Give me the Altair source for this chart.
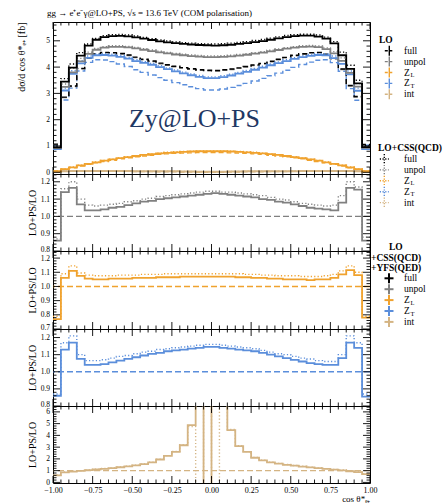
import altair as alt
import pandas as pd

FONT = "Liberation Serif"

# ---- binning in cos(theta*): 40 bins of width 0.05 ----
edges = [round(-1.0 + 0.05 * i, 2) for i in range(41)]
x_major = [-1.0, -0.75, -0.5, -0.25, 0.0, 0.25, 0.5, 0.75, 1.0]
x_minor = [e for e in edges if e not in x_major]

series_names = ["full", "unpol", "Z_L", "Z_T", "int"]
series_colors = ["#000000", "#808080", "#F0A22E", "#5B8EDB", "#D4B483"]

# ---- d sigma / d cos theta* [fb] ----
full_lo = [1.07, 2.86, 3.28, 3.95, 4.35, 4.50, 4.56, 4.55, 4.52, 4.46, 4.38, 4.30, 4.23, 4.15, 4.09, 4.03, 3.98, 3.94, 3.90, 3.88,
           3.87, 3.90, 3.93, 3.97, 4.02, 4.08, 4.14, 4.22, 4.30, 4.37, 4.45, 4.51, 4.55, 4.56, 4.49, 4.33, 3.93, 3.30, 2.88, 1.06]
full_css = [1.00, 3.56, 4.12, 4.55, 4.88, 5.09, 5.19, 5.23, 5.24, 5.22, 5.18, 5.13, 5.08, 5.03, 4.99, 4.96, 4.93, 4.91, 4.89, 4.88,
            4.88, 4.89, 4.91, 4.94, 4.97, 5.01, 5.05, 5.10, 5.15, 5.20, 5.23, 5.25, 5.25, 5.22, 5.14, 4.97, 4.57, 4.07, 3.50, 1.01]
full_ps = [0.95, 3.45, 3.98, 4.44, 4.82, 5.04, 5.14, 5.18, 5.19, 5.17, 5.13, 5.08, 5.03, 4.98, 4.94, 4.91, 4.88, 4.86, 4.84, 4.83,
           4.82, 4.83, 4.85, 4.88, 4.91, 4.95, 4.99, 5.04, 5.09, 5.14, 5.18, 5.20, 5.20, 5.16, 5.08, 4.90, 4.45, 3.93, 3.38, 0.96]

unpol_lo = [1.05, 2.84, 3.26, 3.93, 4.33, 4.48, 4.54, 4.53, 4.50, 4.44, 4.36, 4.28, 4.21, 4.13, 4.07, 4.01, 3.96, 3.92, 3.88, 3.86,
            3.85, 3.88, 3.91, 3.95, 4.00, 4.06, 4.12, 4.20, 4.28, 4.35, 4.43, 4.49, 4.53, 4.54, 4.47, 4.31, 3.91, 3.28, 2.86, 1.04]
unpol_css = [0.97, 3.36, 3.95, 4.33, 4.57, 4.71, 4.78, 4.81, 4.81, 4.79, 4.75, 4.70, 4.65, 4.60, 4.56, 4.52, 4.49, 4.46, 4.44, 4.42,
             4.42, 4.43, 4.45, 4.48, 4.51, 4.55, 4.59, 4.64, 4.69, 4.74, 4.78, 4.81, 4.82, 4.80, 4.73, 4.59, 4.35, 3.94, 3.37, 0.98]
unpol_ps = [0.92, 3.25, 3.80, 4.22, 4.50, 4.66, 4.74, 4.77, 4.77, 4.75, 4.71, 4.66, 4.61, 4.56, 4.52, 4.48, 4.45, 4.42, 4.40, 4.38,
            4.38, 4.39, 4.41, 4.44, 4.47, 4.51, 4.55, 4.60, 4.65, 4.70, 4.74, 4.77, 4.78, 4.76, 4.68, 4.52, 4.24, 3.78, 3.26, 0.93]

zl_lo = [0.05, 0.11, 0.17, 0.24, 0.30, 0.36, 0.41, 0.46, 0.51, 0.55, 0.59, 0.62, 0.65, 0.68, 0.70, 0.72, 0.73, 0.74, 0.75, 0.75,
         0.75, 0.75, 0.74, 0.73, 0.72, 0.70, 0.68, 0.65, 0.62, 0.59, 0.55, 0.51, 0.46, 0.41, 0.36, 0.30, 0.24, 0.17, 0.11, 0.05]
zl_css = [0.045, 0.125, 0.20, 0.27, 0.33, 0.39, 0.45, 0.50, 0.55, 0.59, 0.63, 0.67, 0.70, 0.73, 0.76, 0.78, 0.79, 0.80, 0.81, 0.81,
          0.81, 0.81, 0.80, 0.79, 0.78, 0.76, 0.73, 0.70, 0.67, 0.63, 0.59, 0.55, 0.50, 0.45, 0.39, 0.33, 0.27, 0.20, 0.125, 0.045]
zl_ps = [0.04, 0.12, 0.19, 0.26, 0.32, 0.38, 0.44, 0.49, 0.54, 0.58, 0.62, 0.66, 0.69, 0.72, 0.74, 0.76, 0.78, 0.79, 0.80, 0.80,
         0.80, 0.80, 0.79, 0.78, 0.76, 0.74, 0.72, 0.69, 0.66, 0.62, 0.58, 0.54, 0.49, 0.44, 0.38, 0.32, 0.26, 0.19, 0.12, 0.04]

zt_lo = [1.02, 2.75, 3.20, 3.85, 4.18, 4.28, 4.27, 4.21, 4.12, 4.02, 3.90, 3.80, 3.70, 3.60, 3.50, 3.41, 3.33, 3.25, 3.18, 3.13,
         3.13, 3.17, 3.23, 3.30, 3.38, 3.47, 3.57, 3.67, 3.77, 3.88, 3.99, 4.10, 4.19, 4.26, 4.28, 4.17, 3.84, 3.18, 2.74, 1.03]
zt_css = [0.93, 3.20, 3.86, 4.24, 4.42, 4.50, 4.51, 4.49, 4.44, 4.37, 4.28, 4.21, 4.14, 4.05, 3.97, 3.89, 3.81, 3.74, 3.68, 3.63,
          3.63, 3.67, 3.73, 3.80, 3.87, 3.95, 4.03, 4.12, 4.20, 4.28, 4.36, 4.43, 4.48, 4.51, 4.51, 4.42, 4.24, 3.85, 3.20, 0.93]
zt_ps = [0.88, 3.11, 3.74, 4.14, 4.35, 4.45, 4.46, 4.44, 4.39, 4.32, 4.23, 4.16, 4.09, 4.00, 3.92, 3.84, 3.76, 3.69, 3.63, 3.58,
         3.58, 3.62, 3.68, 3.75, 3.82, 3.90, 3.98, 4.07, 4.15, 4.23, 4.31, 4.38, 4.43, 4.46, 4.45, 4.34, 4.12, 3.72, 3.10, 0.88]

int_lo = [0.03, 0.05, 0.05, 0.05, 0.05, 0.05, 0.04, 0.04, 0.04, 0.04, 0.03, 0.03, 0.03, 0.02, 0.02, 0.02, 0.01, 0.01, 0.00, 0.00,
          0.00, 0.00, 0.01, 0.01, 0.02, 0.02, 0.02, 0.03, 0.03, 0.03, 0.04, 0.04, 0.04, 0.04, 0.05, 0.05, 0.05, 0.05, 0.05, 0.03]
int_css = [0.02, 0.05, 0.05, 0.05, 0.05, 0.06, 0.05, 0.05, 0.05, 0.05, 0.04, 0.04, 0.04, 0.04, 0.04, 0.04, 0.03, 0.03, 0.02, 0.02,
           0.02, 0.02, 0.03, 0.03, 0.04, 0.04, 0.04, 0.04, 0.04, 0.04, 0.05, 0.05, 0.05, 0.05, 0.06, 0.05, 0.05, 0.05, 0.05, 0.02]
int_ps = [0.02, 0.04, 0.05, 0.05, 0.05, 0.05, 0.05, 0.05, 0.05, 0.05, 0.04, 0.04, 0.04, 0.04, 0.04, 0.04, 0.03, 0.03, 0.02, 0.02,
          0.02, 0.02, 0.03, 0.03, 0.04, 0.04, 0.04, 0.04, 0.04, 0.04, 0.04, 0.05, 0.05, 0.05, 0.05, 0.05, 0.05, 0.05, 0.04, 0.02]

# ---- ratios LO+PS / LO ----
unpol_r_css = [0.87, 1.16, 1.20, 1.10, 1.065, 1.06, 1.065, 1.07, 1.075, 1.085, 1.09, 1.10, 1.105, 1.115, 1.12, 1.125, 1.13, 1.135, 1.14, 1.145,
               1.145, 1.14, 1.14, 1.135, 1.13, 1.125, 1.12, 1.11, 1.10, 1.095, 1.085, 1.075, 1.07, 1.065, 1.06, 1.065, 1.12, 1.20, 1.17, 0.88]
unpol_r_ps = [0.86, 1.14, 1.165, 1.07, 1.035, 1.035, 1.04, 1.05, 1.055, 1.065, 1.075, 1.085, 1.09, 1.10, 1.105, 1.11, 1.115, 1.12, 1.125, 1.13,
              1.135, 1.13, 1.125, 1.12, 1.115, 1.11, 1.10, 1.095, 1.085, 1.08, 1.07, 1.06, 1.05, 1.045, 1.04, 1.035, 1.08, 1.165, 1.155, 0.86]

zl_r_css = [0.79, 1.09, 1.145, 1.095, 1.08, 1.075, 1.075, 1.075, 1.08, 1.08, 1.08, 1.085, 1.085, 1.085, 1.09, 1.09, 1.09, 1.09, 1.09, 1.09,
            1.09, 1.09, 1.09, 1.09, 1.085, 1.085, 1.08, 1.08, 1.075, 1.075, 1.075, 1.07, 1.07, 1.07, 1.075, 1.085, 1.11, 1.145, 1.10, 0.79]
zl_r_ps = [0.77, 1.06, 1.11, 1.075, 1.055, 1.05, 1.05, 1.055, 1.055, 1.055, 1.06, 1.06, 1.06, 1.065, 1.065, 1.065, 1.07, 1.07, 1.07, 1.07,
           1.07, 1.07, 1.07, 1.065, 1.065, 1.06, 1.06, 1.055, 1.055, 1.05, 1.05, 1.05, 1.045, 1.05, 1.05, 1.06, 1.085, 1.115, 1.08, 0.78]

zt_r_css = [0.87, 1.17, 1.21, 1.10, 1.065, 1.065, 1.07, 1.08, 1.09, 1.095, 1.105, 1.115, 1.12, 1.13, 1.135, 1.14, 1.145, 1.15, 1.155, 1.16,
            1.16, 1.155, 1.15, 1.145, 1.14, 1.135, 1.125, 1.115, 1.105, 1.10, 1.09, 1.08, 1.075, 1.065, 1.06, 1.06, 1.10, 1.21, 1.17, 0.87]
zt_r_ps = [0.86, 1.13, 1.17, 1.075, 1.04, 1.04, 1.045, 1.055, 1.065, 1.075, 1.085, 1.095, 1.105, 1.11, 1.12, 1.125, 1.13, 1.135, 1.14, 1.145,
           1.145, 1.14, 1.135, 1.13, 1.125, 1.12, 1.11, 1.10, 1.09, 1.08, 1.07, 1.06, 1.05, 1.045, 1.04, 1.04, 1.08, 1.17, 1.14, 0.855]

int_r_css = [0.63, 0.88, 0.95, 1.00, 1.06, 1.12, 1.18, 1.24, 1.31, 1.38, 1.47, 1.57, 1.72, 1.98, 2.28, 2.64, 3.20, 4.75, -5.0, 15.0,
             -4.0, 14.0, 4.50, 3.12, 2.62, 2.13, 1.90, 1.72, 1.62, 1.52, 1.44, 1.37, 1.30, 1.23, 1.17, 1.11, 1.05, 0.97, 0.90, 0.72]
int_r_ps = [0.60, 0.85, 0.92, 0.98, 1.04, 1.10, 1.16, 1.22, 1.29, 1.36, 1.45, 1.55, 1.70, 1.95, 2.25, 2.60, 3.16, 4.87, 14.0, -6.0,
            12.0, 16.0, 4.44, 3.08, 2.59, 2.10, 1.88, 1.70, 1.60, 1.50, 1.42, 1.35, 1.28, 1.21, 1.15, 1.09, 1.03, 0.95, 0.88, 0.70]

# ---- legend content ----
legend_heads = [["LO"], ["LO+CSS(QCD)"], ["LO", "+CSS(QCD)", "+YFS(QED)"]]
entry_labels = ["full", "unpol", "Z", "Z", "int"]
entry_subs = ["", "", "L", "T", ""]

W = 317
DASH = {"lo": [5, 3], "css": [1.2, 2.2]}
SW = {"lo": 1.4, "css": 1.4, "ps": 1.8}


def steps(values, series, style):
    rows = [{"x": edges[i], "v": values[i], "series": series, "style": style} for i in range(40)]
    rows.append({"x": edges[40], "v": values[-1], "series": series, "style": style})
    return rows


def vtext(t, x, y, size, weight="normal", color="black", align="left", baseline="middle"):
    return alt.Chart(pd.DataFrame({"t": [t]})).mark_text(
        align=align, baseline=baseline, font=FONT, fontSize=size, fontWeight=weight, color=color).encode(
        text="t:N", x=alt.value(x), y=alt.value(y))


def vrule(x1, x2, y1, y2, color, width, dash=None):
    kw = {"color": color, "strokeWidth": width}
    if dash:
        kw["strokeDash"] = dash
    return alt.Chart(pd.DataFrame({"c": [color]})).mark_rule(**kw).encode(
        x=alt.value(x1), x2=alt.value(x2), y=alt.value(y1), y2=alt.value(y2))


def panel(curves, ydom, height, ymaj, ymin, yfmt, ytitle, title_x, title_anchor="middle",
          bottom=False, ref_color=None, extra=None, lift_lowest=False):
    xs = alt.Scale(domain=[-1, 1], nice=False, zero=False)
    ys = alt.Scale(domain=ydom, nice=False, zero=False)
    color = alt.Color("series:N", scale=alt.Scale(domain=series_names, range=series_colors), legend=None)
    if bottom:
        xax = alt.Axis(values=x_major, format=".2f", title="cos θ*ₑ₊", titleAnchor="end",
                       titleFont=FONT, titleFontSize=9, titleFontWeight="normal", titlePadding=0,
                       labelFont=FONT, labelFontSize=8, labelPadding=3, labelFlush=False,
                       labelOverlap=False, ticks=False, tickSize=0, domain=False, grid=False)
    else:
        xax = None
    baseline = "middle"
    if lift_lowest:
        # the lowest label sits on the panel edge; raise it clear of the panel below
        baseline = {"condition": {"test": f"datum.value <= {ymaj[0] + 1e-6}", "value": "alphabetic"},
                    "value": "middle"}
    yax = alt.Axis(values=ymaj, format=yfmt, title=ytitle, titleX=title_x, titleAnchor=title_anchor,
                   titleFont=FONT, titleFontSize=10, titleFontWeight="normal",
                   labelFont=FONT, labelFontSize=7.5, labelPadding=3.5, labelFlush=False,
                   labelBaseline=baseline,
                   labelOverlap=False, ticks=False, tickSize=0, domain=False, grid=False)

    # every layer carries the same axis definitions, so nothing conflicts when layers merge
    def X(field):
        return alt.X(field, scale=xs, axis=xax)

    def Y(field):
        return alt.Y(field, scale=ys, axis=yax)

    layers = []
    for style in ["lo", "css", "ps"]:
        rows = []
        for vals, name, st in curves:
            if st == style:
                rows += steps(vals, name, st)
        if not rows:
            continue
        kw = {"interpolate": "step-after", "clip": True, "strokeWidth": SW[style]}
        if style in DASH:
            kw["strokeDash"] = DASH[style]
        layers.append(alt.Chart(pd.DataFrame(rows)).mark_line(**kw).encode(
            x=X("x:Q"), y=Y("v:Q"), color=color))
    if ref_color is not None:
        layers.append(alt.Chart(pd.DataFrame({"v": [1.0]})).mark_rule(
            color=ref_color, strokeDash=[6, 3], strokeWidth=1.4).encode(y=Y("v:Q")))

    def xr(vals, y0, y1):
        return alt.Chart(pd.DataFrame({"x": vals})).mark_rule(color="black", strokeWidth=0.9).encode(
            x=X("x:Q"), y=alt.value(y0), y2=alt.value(y1))

    def yr(vals, x0, x1):
        return alt.Chart(pd.DataFrame({"v": vals})).mark_rule(color="black", strokeWidth=0.9).encode(
            y=Y("v:Q"), x=alt.value(x0), x2=alt.value(x1))

    layers += [xr(x_major, height, height - 7), xr(x_minor, height, height - 3.5),
               xr(x_major, 0, 7), xr(x_minor, 0, 3.5),
               yr(ymaj, 0, 7), yr(ymin, 0, 3.5), yr(ymaj, W, W - 7), yr(ymin, W, W - 3.5)]
    if extra:
        layers += extra
    return alt.layer(*layers).properties(width=W, height=height)


def minors(lo, hi, step, major_step):
    out = []
    n = int(round((hi - lo) / step))
    for i in range(n + 1):
        v = round(lo + i * step, 3)
        if abs(v / major_step - round(v / major_step)) > 1e-6:
            out.append(v)
    return out


# ---- legend, drawn to the right of the main frame ----
def legend_layers():
    out = []
    LX = W  # legend column starts at the right edge of the frame
    head_pos = [[(9, 18)], [(8, 126.3)], [(19, 224.7), (1, 235.7), (1, 246.3)]]
    first_row = [28.7, 137.0, 256.3]
    sym_x = [19.3, 14.3, 19.0]
    step = 10.9
    for b, style in enumerate(["lo", "css", "ps"]):
        for txt, (hx, hy) in zip(legend_heads[b], head_pos[b]):
            out.append(vtext(txt, LX + hx, hy, 9.5, weight="bold"))
        for k, (lab, sub, col) in enumerate(zip(entry_labels, entry_subs, series_colors)):
            y = first_row[b] + step * k
            out.append(vtext(lab, LX + 34, y, 9.5))
            if sub:
                out.append(vtext(sub, LX + 40.5, y + 2.5, 6.5))
            sx = LX + sym_x[b]
            if style == "lo":
                out.append(vrule(sx - 4.5, sx + 4.5, y, y, col, 1.4, [3, 1.5]))
                out.append(vrule(sx, sx, y - 5, y + 5, col, 1.4))
            elif style == "css":
                out.append(vrule(sx - 4.5, sx + 4.5, y, y, col, 1.4, [1.2, 1.5]))
                out.append(vrule(sx, sx, y - 5, y + 5, col, 1.4, [1.2, 1.5]))
            else:
                out.append(vrule(sx - 4.5, sx + 4.5, y, y, col, 2.0))
                out.append(vrule(sx, sx, y - 5, y + 5, col, 2.0))
    return out


# ---- main panel ----
main_curves = []
for style, sets in [("lo", [int_lo, zl_lo, zt_lo, unpol_lo, full_lo]),
                    ("css", [int_css, zl_css, zt_css, unpol_css, full_css]),
                    ("ps", [int_ps, zl_ps, zt_ps, unpol_ps, full_ps])]:
    for vals, name in zip(sets, ["int", "Z_L", "Z_T", "unpol", "full"]):
        main_curves.append((vals, name, style))

process_title = "gg → e⁺e⁻γ@LO+PS, √s = 13.6 TeV (COM polarisation)"
overlay_label = "Zy@LO+PS"
extras = [vtext(process_title, -6, -9, 9),
          vtext(overlay_label, 141.5, 105, 26, color="#1F3864", align="center", baseline="alphabetic")]
extras += legend_layers()

main = panel(main_curves, [-0.065, 5.715], 152, [0, 1, 2, 3, 4, 5], minors(0, 5.6, 0.2, 1), "d",
             "dσ/d cos θ*ₑ₊ [fb]", -27, title_anchor="end", extra=extras)

ratio_title = "LO+PS/LO"
r_unpol = panel([(unpol_r_css, "unpol", "css"), (unpol_r_ps, "unpol", "ps")], [0.8, 1.245], 77,
                [0.8, 0.9, 1.0, 1.1, 1.2], minors(0.8, 1.24, 0.02, 0.1), ".1f", ratio_title, -16,
                ref_color=series_colors[1], lift_lowest=True)
r_zl = panel([(zl_r_css, "Z_L", "css"), (zl_r_ps, "Z_L", "ps")], [0.7, 1.25], 78,
             [0.7, 0.8, 0.9, 1.0, 1.1, 1.2], minors(0.7, 1.24, 0.02, 0.1), ".1f", ratio_title, -16,
             ref_color=series_colors[2], lift_lowest=True)
r_zt = panel([(zt_r_css, "Z_T", "css"), (zt_r_ps, "Z_T", "ps")], [0.8, 1.25], 77,
             [0.8, 0.9, 1.0, 1.1, 1.2], minors(0.8, 1.24, 0.02, 0.1), ".1f", ratio_title, -16,
             ref_color=series_colors[3], lift_lowest=True)
r_int = panel([(int_r_css, "int", "css"), (int_r_ps, "int", "ps")], [-0.05, 6.5], 77,
              [0, 1, 2, 3, 4, 5, 6], minors(0, 6.4, 0.2, 1), "d", ratio_title, -16,
              bottom=True, ref_color=series_colors[4])

chart = alt.vconcat(main, r_unpol, r_zl, r_zt, r_int, spacing=0, bounds="flush").properties(
    padding={"left": 15, "top": 8, "right": 0, "bottom": 0},
    background="white",
).configure_view(stroke="black", strokeWidth=1)

chart.save("out.html", embed_options={"renderer": "svg", "actions": False})
